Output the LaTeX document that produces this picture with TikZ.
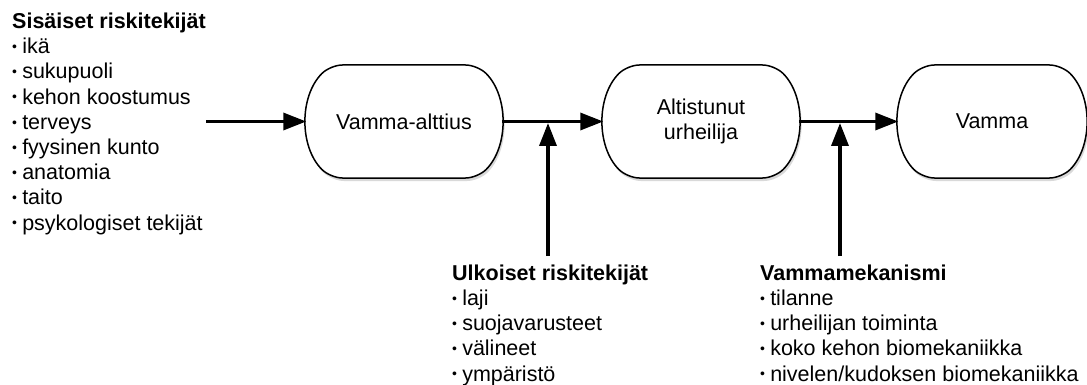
\documentclass[tikz,border=0pt]{standalone}
\usepackage{fontspec}
\setmainfont{Liberation Sans}
\usetikzlibrary{arrows.meta,shapes.misc,shadows}
\newcommand\mybul{\raisebox{0.1em}{\scalebox{0.65}{•}}\hspace{0.24em}}
\begin{document}
\begin{tikzpicture}[x=1pt,y=-1pt,
  stage/.style={draw=black,line width=1.5pt,fill=white,rounded rectangle,rounded rectangle arc length=90,
    rounded corners=12pt,
    minimum width=194pt,minimum height=113pt,inner sep=0pt,align=center,
    font=\fontsize{21.5}{25}\selectfont,
    drop shadow={shadow xshift=1.5pt,shadow yshift=-3pt,opacity=0.3}},
  list/.style={anchor=base west,inner sep=0pt,align=left,font=\fontsize{21.5}{25.2}\selectfont},
  arr/.style={line width=3.5pt,-{Triangle[length=23pt,width=17pt]}}]
\useasboundingbox (0,0) rectangle (1087,385);
\node[stage] (a) at (404,121.5) {Vamma-alttius};
\node[stage] (b) at (701,121.5) {Altistunut\\urheilija};
\node[stage,minimum width=186pt] (c) at (992,121.5) {Vamma};
\node[list] (sis) at (12,230) {\textbf{Sisäiset riskitekijät}\\\mybul ikä\\\mybul sukupuoli\\\mybul kehon koostumus\\\mybul terveys\\\mybul fyysinen kunto\\\mybul anatomia\\\mybul taito\\\mybul psykologiset tekijät};
\node[list] (ulk) at (452,381) {\textbf{Ulkoiset riskitekijät}\\\mybul laji\\\mybul suojavarusteet\\\mybul välineet\\\mybul ympäristö};
\node[list] (mek) at (760,381) {\textbf{Vammamekanismi}\\\mybul tilanne\\\mybul urheilijan toiminta\\\mybul koko kehon biomekaniikka\\\mybul nivelen/kudoksen biomekaniikka};
\coordinate (s1) at (206,121.5);
\coordinate (j1) at (548,123);
\coordinate (u1) at (548,256);
\coordinate (j2) at (840,123);
\coordinate (u2) at (840,256);
\draw[arr] (s1) -- (a.west);
\draw[arr] (a.east) -- (b.west);
\draw[arr] (b.east) -- (c.west);
\draw[arr] (u1) -- (j1);
\draw[arr] (u2) -- (j2);
\end{tikzpicture}
\end{document}
